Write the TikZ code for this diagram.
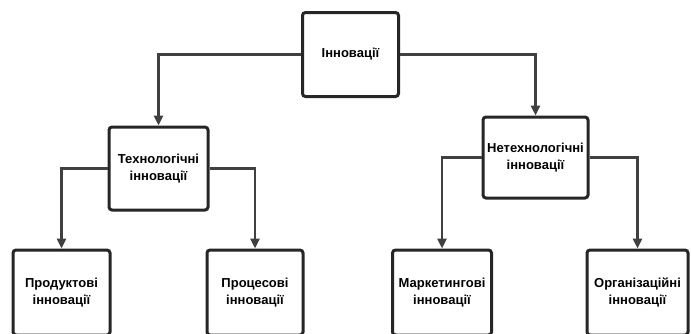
\documentclass[tikz,border=0pt]{standalone}
\usepackage{fontspec}
\setmainfont{Liberation Sans}
\usetikzlibrary{arrows.meta, positioning}

\begin{document}
\begin{tikzpicture}[
    x=1pt, y=1pt,
    box/.style={rectangle, draw=black!85, line width=3pt, rounded corners=3pt, fill=white, align=center, font=\bfseries\fontsize{13}{16.5}\selectfont},
    arrow/.style={draw=black!75, line width=2.5pt, -{Triangle[width=9pt, length=10pt]}}
]
    % Frame
    \useasboundingbox (0, 0) rectangle (691, -333);
    \clip (0, 0) rectangle (691, -333);

    % Levels
    \node (innov) [box, minimum width=96pt, minimum height=84pt] at (350.5, -54.5) {Інновації};
    \node (tech) [box, minimum width=99pt, minimum height=83pt] at (158.5, -168.5) {Технологічні\\інновації};
    \node (nontech) [box, minimum width=105pt, minimum height=81pt] at (535.5, -157.5) {Нетехнологічні\\інновації};

    \node (prod) [box, minimum width=97pt, minimum height=85pt] at (61.5, -292.5) {Продуктові\\інновації};
    \node (proc) [box, minimum width=96pt, minimum height=85pt] at (255, -292.5) {Процесові\\інновації};
    \node (market) [box, minimum width=99pt, minimum height=85pt] at (442, -292.5) {Маркетингові\\інновації};
    \node (org) [box, minimum width=101pt, minimum height=85pt] at (637.5, -292.5) {Організаційні\\інновації};

    % Connections
    \draw [arrow] (innov.west) -| (tech.north);
    \draw [arrow] (innov.east) -| (nontech.north);
    \draw [arrow] (tech.west) -| (prod.north);
    \draw [arrow] (tech.east) -| (proc.north);
    \draw [arrow] (nontech.west) -| (market.north);
    \draw [arrow] (nontech.east) -| (org.north);
\end{tikzpicture}
\end{document}
